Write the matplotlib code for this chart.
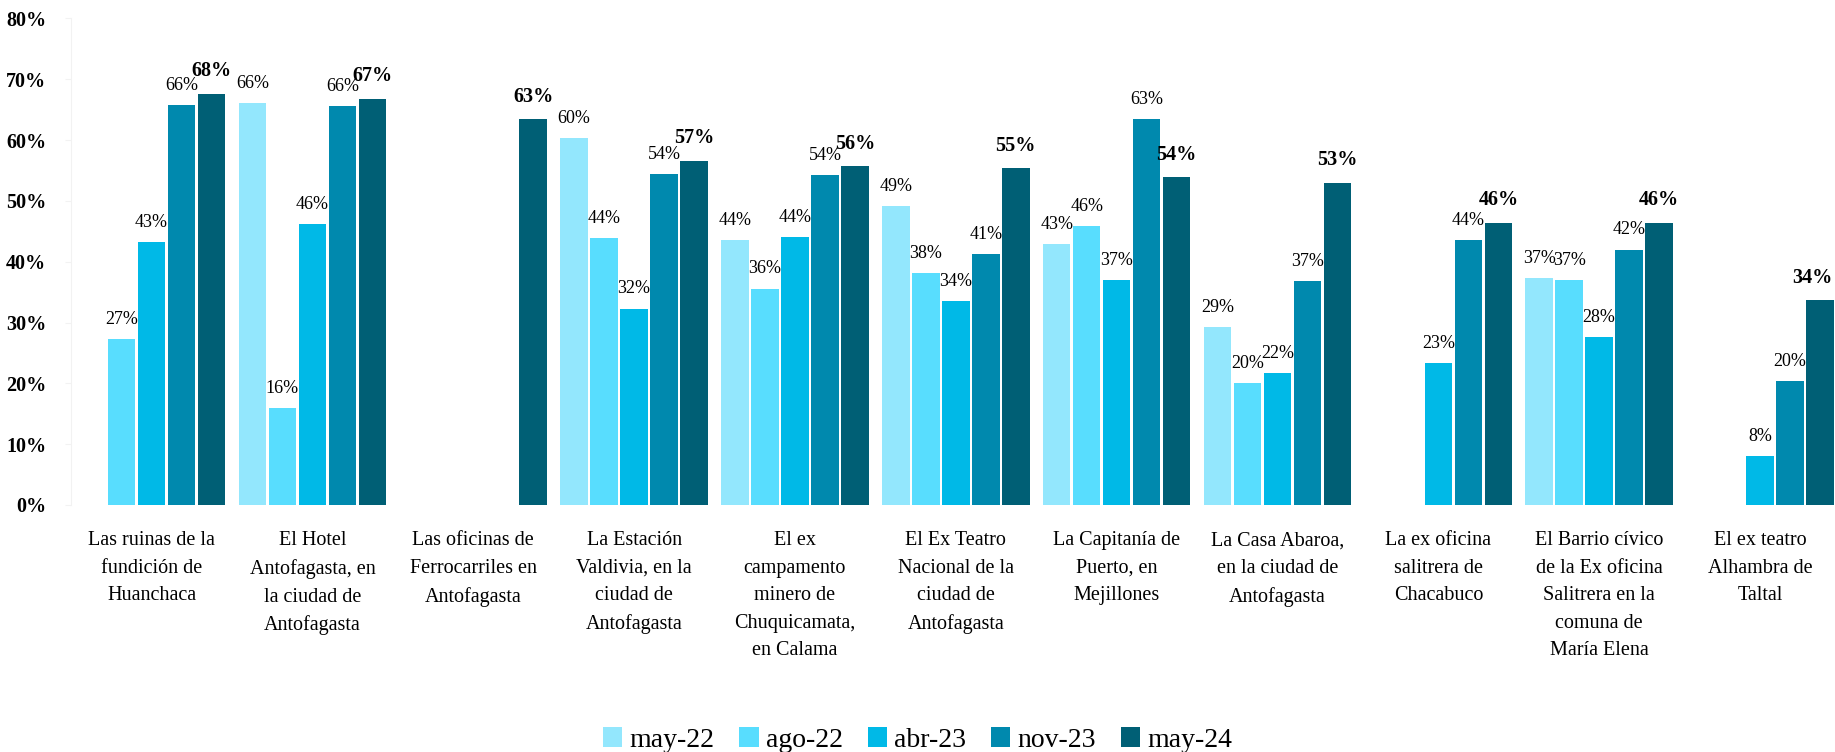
import matplotlib
matplotlib.use("Agg")
import matplotlib.pyplot as plt
import numpy as np

plt.rcParams['font.family'] = ['Liberation Serif', 'DejaVu Serif']

categories = [
    "Las ruinas de la\nfundición de\nHuanchaca",
    "El Hotel\nAntofagasta, en\nla ciudad de\nAntofagasta",
    "Las oficinas de\nFerrocarriles en\nAntofagasta",
    "La Estación\nValdivia, en la\nciudad de\nAntofagasta",
    "El ex\ncampamento\nminero de\nChuquicamata,\nen Calama",
    "El Ex Teatro\nNacional de la\nciudad de\nAntofagasta",
    "La Capitanía de\nPuerto, en\nMejillones",
    "La Casa Abaroa,\nen la ciudad de\nAntofagasta",
    "La ex oficina\nsalitrera de\nChacabuco",
    "El Barrio cívico\nde la Ex oficina\nSalitrera en la\ncomuna de\nMaría Elena",
    "El ex teatro\nAlhambra de\nTaltal",
]

series_names = ["may-22", "ago-22", "abr-23", "nov-23", "may-24"]

may22 = [None, 66.1, None, 60.4, 43.6, 49.2, 42.9, 29.3, None, 37.3, None]
ago22 = [27.3, 16.0, None, 43.9, 35.6, 38.2, 45.9, 20.1, None, 37.0, None]
abr23 = [43.3, 46.2, None, 32.3, 44.0, 33.6, 37.0, 21.7, 23.4, 27.6, 8.0]
nov23 = [65.8, 65.6, None, 54.4, 54.3, 41.2, 63.4, 36.8, 43.6, 42.0, 20.4]
may24 = [67.6, 66.8, 63.4, 56.6, 55.7, 55.4, 53.9, 53.0, 46.4, 46.4, 33.7]

colors = ["#93E7FD", "#58DDFE", "#00B9E7", "#0089AE", "#005F75"]

yticks = [0, 10, 20, 30, 40, 50, 60, 70, 80]
ytick_labels = ["0%", "10%", "20%", "30%", "40%", "50%", "60%", "70%", "80%"]

W, H = 1835, 752
fig = plt.figure(figsize=(W / 100, H / 100), dpi=100)
ax_left = 71.1
ax_bottom = 505.0
ax_top = 18.5
group_px = 160.85
ax = fig.add_axes([ax_left / W, (H - ax_bottom) / H, (W - ax_left) / W, (ax_bottom - ax_top) / H])

n = len(categories)
x = np.arange(n)
pitch = 30.0 / group_px
width = 27.5 / group_px
all_series = [may22, ago22, abr23, nov23, may24]

labels = []
for i, (name, vals, col) in enumerate(zip(series_names, all_series, colors)):
    offs = (i - 2) * pitch
    xs = [xi + offs for xi, v in zip(x, vals) if v is not None]
    vs = [v for v in vals if v is not None]
    ax.bar(xs, vs, width=width, color=col, label=name, edgecolor='none')
    for xx, v in zip(xs, vs):
        bold = (i == 4)
        t = ax.annotate(f"{v:.0f}%", (xx, v), xytext=(0, 9 if bold else 8), textcoords='offset points',
                        ha='center', va='bottom', fontsize=14.5 if bold else 13,
                        fontweight='bold' if bold else 'normal', color='#000000',
                        annotation_clip=False)
        labels.append((t, bold))

right_lim = n - 0.5 - (ax_left + n * group_px - W) / group_px
ax.set_xlim(-0.5, right_lim)
ax.set_ylim(0, 80)
ax.set_yticks(yticks)
ax.set_yticklabels(ytick_labels, fontsize=14.5, fontweight='bold')
ax.set_xticks(x)
ax.set_xticklabels(categories, fontsize=14.5, linespacing=1.6, va='top')
ax.tick_params(axis='x', length=0, pad=19)
ax.tick_params(axis='y', length=4, color='#F2F2F2', pad=14)
for s in ['top', 'right', 'bottom']:
    ax.spines[s].set_visible(False)
ax.spines['left'].set_color('#F2F2F2')

leg = fig.legend(loc='center', bbox_to_anchor=(0.5, 1 - 740 / H), ncol=5, frameon=False,
                 fontsize=20, handlelength=0.7, handleheight=0.7, handletextpad=0.25,
                 columnspacing=0.9)

# keep data labels inside the figure (as the original chart does)
fig.canvas.draw()
renderer = fig.canvas.get_renderer()
for t, bold in labels:
    bb = t.get_window_extent(renderer)
    if bb.x1 > W - 3:
        shift_px = bb.x1 - (W - 3)
        t.xyann = (-shift_px * 72 / 100, t.xyann[1])

fig.savefig("out.png", dpi=100)
